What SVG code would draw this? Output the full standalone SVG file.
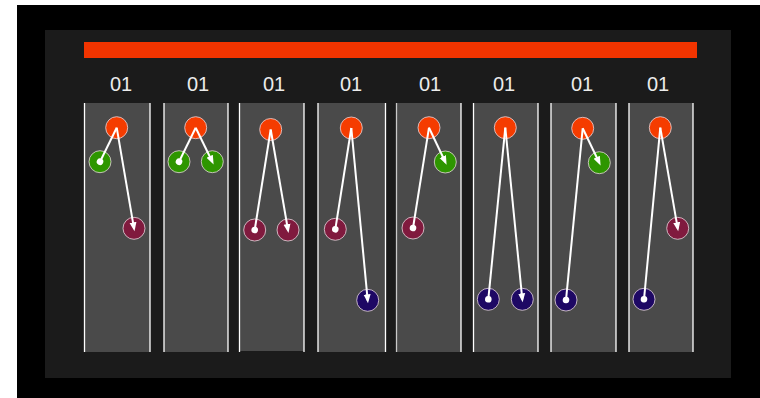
<svg xmlns="http://www.w3.org/2000/svg" width="760" height="398" viewBox="0 0 760 398">
<style>
.lane{fill:#4a4a4a}
.edge{stroke:#ffffff;stroke-width:2;fill:none}
.n{stroke:#e6d6dc;stroke-opacity:0.8;stroke-width:1}
.or{fill:#f53c00}
.gr{fill:#2e9600}
.mr{fill:#801a3e}
.nv{fill:#1e0864}
.lbl{font-family:"Liberation Sans",Arial,sans-serif;font-size:20px;fill:#ececec;text-anchor:middle}
.bd{stroke:#ffffff;stroke-width:1.3}
</style>
<defs>
<marker id="arr" markerUnits="userSpaceOnUse" markerWidth="10" markerHeight="8" refX="6" refY="4" orient="auto">
<path d="M0,0.5 L9,4 L0,7.5 z" fill="#ffffff"/>
</marker>
<marker id="dot" markerUnits="userSpaceOnUse" markerWidth="8" markerHeight="8" refX="4" refY="4" orient="auto">
<circle cx="4" cy="4" r="3.3" fill="#ffffff"/>
</marker>
</defs>
<rect x="17" y="5" width="743" height="393" fill="#000000"/>
<rect x="45" y="30" width="686" height="348" fill="#1b1b1b"/>
<rect id="bar" x="84" y="42" width="613" height="16" fill="#f23400"/>
<g id="lanes">
<g id="lane1"><rect class="lane" x="84" y="103" width="66" height="249"/><line class="bd" x1="84.5" y1="103" x2="84.5" y2="352"/><line class="bd" x1="150" y1="103" x2="150" y2="352"/><text class="lbl" x="121" y="91">01</text></g>
<g id="lane2"><rect class="lane" x="164" y="103" width="64" height="249"/><line class="bd" x1="164" y1="103" x2="164" y2="352"/><line class="bd" x1="228" y1="103" x2="228" y2="352"/><text class="lbl" x="198" y="91">01</text></g>
<g id="lane3"><rect class="lane" x="239" y="103" width="65" height="248"/><line class="bd" x1="239.5" y1="103" x2="239.5" y2="352"/><line class="bd" x1="304" y1="103" x2="304" y2="352"/><text class="lbl" x="274" y="91">01</text></g>
<g id="lane4"><rect class="lane" x="318" y="103" width="68" height="249"/><line class="bd" x1="318" y1="103" x2="318" y2="352"/><line class="bd" x1="385.5" y1="103" x2="385.5" y2="352"/><text class="lbl" x="351" y="91">01</text></g>
<g id="lane5"><rect class="lane" x="396" y="103" width="65" height="249"/><line class="bd" x1="396.5" y1="103" x2="396.5" y2="352" stroke-opacity="0.7"/><line class="bd" x1="461" y1="103" x2="461" y2="352"/><text class="lbl" x="430" y="91">01</text></g>
<g id="lane6"><rect class="lane" x="473" y="103" width="65" height="249"/><line class="bd" x1="473.5" y1="103" x2="473.5" y2="352"/><line class="bd" x1="538" y1="103" x2="538" y2="352"/><text class="lbl" x="504" y="91">01</text></g>
<g id="lane7"><rect class="lane" x="551" y="103" width="65" height="249"/><line class="bd" x1="551" y1="103" x2="551" y2="352"/><line class="bd" x1="616" y1="103" x2="616" y2="352"/><text class="lbl" x="582" y="91">01</text></g>
<g id="lane8"><rect class="lane" x="629" y="103" width="64" height="249"/><line class="bd" x1="629" y1="103" x2="629" y2="352"/><line class="bd" x1="693" y1="103" x2="693" y2="352"/><text class="lbl" x="658" y="91">01</text></g>
</g>
<g id="nodes">
<g id="c1"><circle class="n or" cx="116.7" cy="127.7" r="11"/><circle class="n gr" cx="100" cy="161.7" r="11"/><circle class="n mr" cx="134" cy="228.3" r="11"/></g>
<g id="c2"><circle class="n or" cx="195.7" cy="127.7" r="11"/><circle class="n gr" cx="179" cy="161.7" r="11"/><circle class="n gr" cx="212.3" cy="161.7" r="11"/></g>
<g id="c3"><circle class="n or" cx="270.7" cy="129.5" r="11"/><circle class="n mr" cx="254.7" cy="230" r="11"/><circle class="n mr" cx="288" cy="230" r="11"/></g>
<g id="c4"><circle class="n or" cx="351.3" cy="128" r="11"/><circle class="n mr" cx="335.3" cy="229.3" r="11"/><circle class="n nv" cx="367.7" cy="300.3" r="11"/></g>
<g id="c5"><circle class="n or" cx="429" cy="127.7" r="11"/><circle class="n gr" cx="445.3" cy="162" r="11"/><circle class="n mr" cx="413" cy="228" r="11"/></g>
<g id="c6"><circle class="n or" cx="505.3" cy="127.7" r="11"/><circle class="n nv" cx="488.3" cy="299.3" r="11"/><circle class="n nv" cx="522.3" cy="299.3" r="11"/></g>
<g id="c7"><circle class="n or" cx="582.7" cy="128.3" r="11"/><circle class="n gr" cx="599.3" cy="162.7" r="11"/><circle class="n nv" cx="566" cy="300" r="11"/></g>
<g id="c8"><circle class="n or" cx="660.3" cy="127.7" r="11"/><circle class="n mr" cx="677.7" cy="228.3" r="11"/><circle class="n nv" cx="644" cy="299.3" r="11"/></g>
</g>
<g id="connectors">
<line class="edge" x1="116.7" y1="127.7" x2="100" y2="161.7" marker-end="url(#dot)"/>
<line class="edge" x1="116.7" y1="127.7" x2="134" y2="228.3" marker-end="url(#arr)"/>
<line class="edge" x1="195.7" y1="127.7" x2="179" y2="161.7" marker-end="url(#dot)"/>
<line class="edge" x1="195.7" y1="127.7" x2="212.3" y2="161.7" marker-end="url(#arr)"/>
<line class="edge" x1="270.7" y1="129.5" x2="254.7" y2="230" marker-end="url(#dot)"/>
<line class="edge" x1="270.7" y1="129.5" x2="288" y2="230" marker-end="url(#arr)"/>
<line class="edge" x1="351.3" y1="128" x2="335.3" y2="229.3" marker-end="url(#dot)"/>
<line class="edge" x1="351.3" y1="128" x2="367.7" y2="300.3" marker-end="url(#arr)"/>
<line class="edge" x1="429" y1="127.7" x2="413" y2="228" marker-end="url(#dot)"/>
<line class="edge" x1="429" y1="127.7" x2="445.3" y2="162" marker-end="url(#arr)"/>
<line class="edge" x1="505.3" y1="127.7" x2="488.3" y2="299.3" marker-end="url(#dot)"/>
<line class="edge" x1="505.3" y1="127.7" x2="522.3" y2="299.3" marker-end="url(#arr)"/>
<line class="edge" x1="582.7" y1="128.3" x2="566" y2="300" marker-end="url(#dot)"/>
<line class="edge" x1="582.7" y1="128.3" x2="599.3" y2="162.7" marker-end="url(#arr)"/>
<line class="edge" x1="660.3" y1="127.7" x2="644" y2="299.3" marker-end="url(#dot)"/>
<line class="edge" x1="660.3" y1="127.7" x2="677.7" y2="228.3" marker-end="url(#arr)"/>
</g>
</svg>
